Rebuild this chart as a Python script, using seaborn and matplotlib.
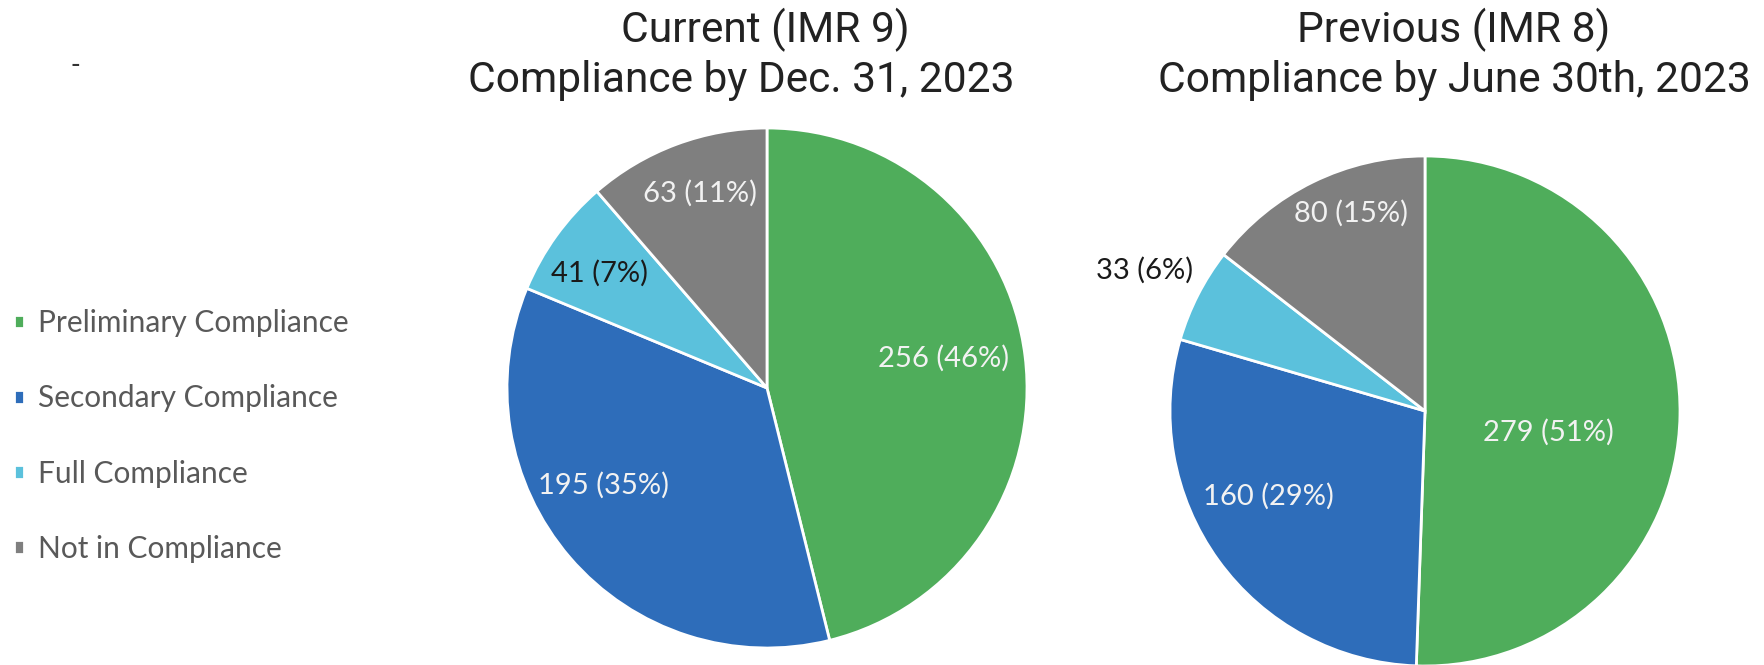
import matplotlib
matplotlib.use('Agg')
import matplotlib.pyplot as plt
import numpy as np
import seaborn as sns

# data
categories = ['Preliminary Compliance', 'Secondary Compliance', 'Full Compliance', 'Not in Compliance']
current_counts = [256, 195, 41, 63]
current_pcts = [46, 35, 7, 11]
previous_counts = [279, 160, 33, 80]
previous_pcts = [51, 29, 6, 15]
current_title = ['Current (IMR 9)', 'Compliance by Dec. 31, 2023']
previous_title = ['Previous (IMR 8)', 'Compliance by June 30th, 2023']

sns.set_theme(style='white')
plt.rcParams['font.family'] = ['Roboto', 'DejaVu Sans']

colors = sns.color_palette(['#4FAD5B', '#2E6DBA', '#5BC1DC', '#7F7F7F'])
label_font = 'Lato'

fig = plt.figure(figsize=(17.64, 6.65), dpi=100)
W, H = 1764, 665


def pie_axes(cx, cy, r):
    return fig.add_axes([(cx - r) / W, (H - cy - r) / H, 2 * r / W, 2 * r / H])


def draw_pie(ax, counts, pcts, label_r, label_nudge, label_cols):
    wedges, _ = ax.pie(counts, colors=colors, startangle=90, counterclock=False,
                       wedgeprops=dict(edgecolor='white', linewidth=2))
    for w, n, p, lr, nud, lc in zip(wedges, counts, pcts, label_r, label_nudge, label_cols):
        ang = np.deg2rad((w.theta1 + w.theta2) / 2 + nud)
        ax.text(lr * np.cos(ang), lr * np.sin(ang), '{} ({}%)'.format(n, p),
                ha='center', va='center', color=lc, fontsize=21, family=label_font)
    ax.set_xlim(-1, 1)
    ax.set_ylim(-1, 1)
    ax.set_aspect('equal')
    ax.axis('off')
    return wedges


ax1 = pie_axes(767, 388, 260)
wedges = draw_pie(ax1, current_counts, current_pcts,
                  [0.69, 0.73, 0.78, 0.79], [2.5, -10, 1.5, -1.5],
                  ['#F2F2F2', '#F2F2F2', '#1A1A1A', '#F2F2F2'])

ax2 = pie_axes(1425, 411, 255)
draw_pie(ax2, previous_counts, previous_pcts,
         [0.49, 0.70, 1.23, 0.83], [-9, -7.5, 0.5, -5.5],
         ['#F2F2F2', '#F2F2F2', '#1A1A1A', '#F2F2F2'])

# two title lines each, placed by baseline
for (x1, x2), lines in [((765, 741), current_title), ((1454, 1454), previous_title)]:
    fig.text(x1 / W, 1 - 42 / H, lines[0], ha='center', va='baseline', fontsize=30.6,
             color='#222222')
    fig.text(x2 / W, 1 - 92 / H, lines[1], ha='center', va='baseline', fontsize=30.6,
             color='#222222')
fig.text(75 / W, 1 - 65 / H, '-', ha='center', va='center', fontsize=20, color='#333333')

leg = fig.legend(wedges, categories, loc='center left', bbox_to_anchor=(14 / W, 1 - 436 / H),
                 frameon=False, borderpad=0, borderaxespad=0,
                 handlelength=0.34, handleheight=0.34, handletextpad=0.45,
                 labelspacing=1.58, prop={'family': label_font, 'size': 21.5})
for t in leg.get_texts():
    t.set_color('#595959')

fig.savefig('out.png', dpi=100)
